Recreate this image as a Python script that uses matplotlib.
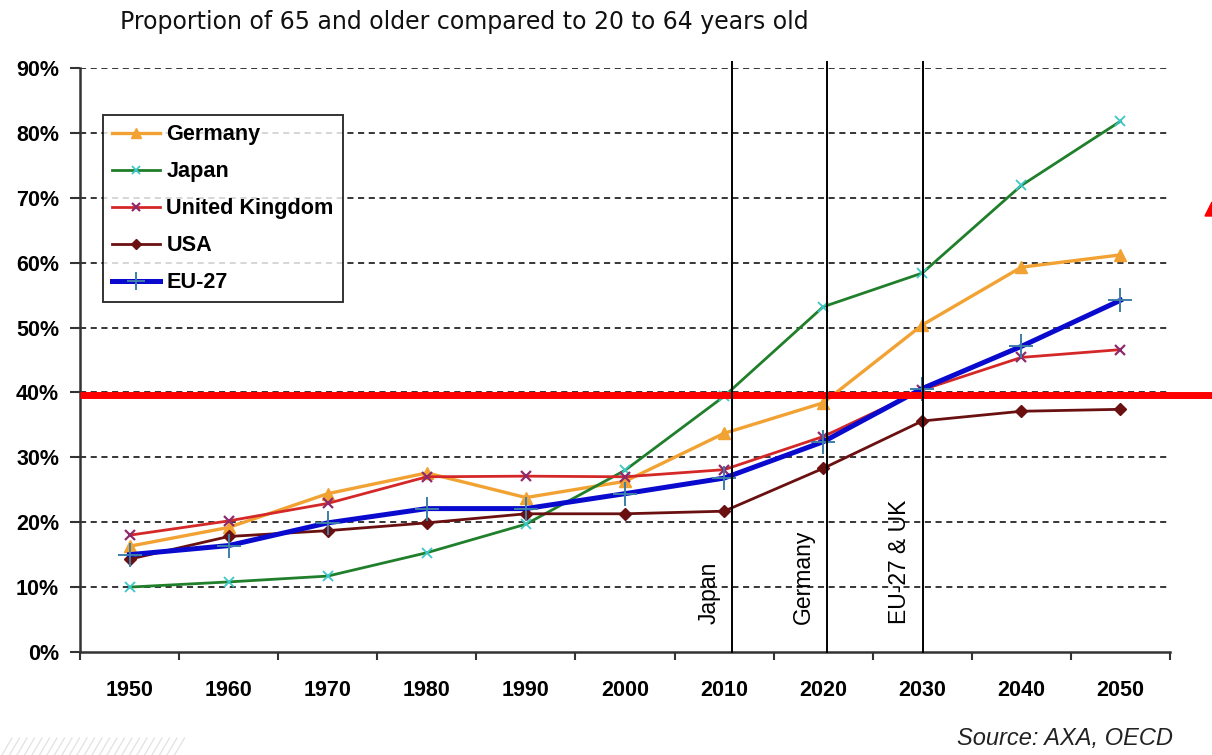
import numpy as np
import matplotlib
matplotlib.use("Agg")
import matplotlib.pyplot as plt
from matplotlib.lines import Line2D
from matplotlib.patches import Polygon

# ----------------------------
# DATA
# ----------------------------
years = ["1950", "1960", "1970", "1980", "1990", "2000", "2010", "2020", "2030", "2040", "2050"]
germany = [16.3, 19.2, 24.4, 27.6, 23.8, 26.3, 33.7, 38.4, 50.4, 59.3, 61.2]
japan = [10.0, 10.8, 11.7, 15.3, 19.7, 28.0, 39.4, 53.2, 58.4, 71.9, 81.8]
uk = [18.0, 20.2, 22.9, 27.0, 27.1, 27.0, 28.1, 33.2, 40.4, 45.4, 46.6]
usa = [14.3, 17.8, 18.7, 19.9, 21.3, 21.3, 21.7, 28.3, 35.6, 37.1, 37.4]
eu27 = [15.0, 16.4, 19.9, 22.1, 22.1, 24.4, 26.8, 32.4, 40.6, 47.1, 54.2]
threshold = 39.6
crossing_labels = ["Japan", "Germany", "EU-27 & UK"]
crossing_pos = [6.08, 7.04, 8.01]
yticks = [0, 10, 20, 30, 40, 50, 60, 70, 80, 90]

plt.rcParams["font.family"] = ["Liberation Sans", "DejaVu Sans"]

fig = plt.figure(figsize=(12.12, 7.55), dpi=100)
ax = fig.add_axes([80 / 1212, 1 - 652 / 755, 1090 / 1212, 584 / 755])

x = np.arange(len(years))

# ----------------------------
# series
# ----------------------------
ax.plot(x, germany, color="#F2A232", lw=2.4, marker="^", ms=9, mfc="#F2A232", mec="#F2A232",
        label="Germany", zorder=4)
ax.plot(x, japan, color="#1F7F2A", lw=2.0, marker="x", ms=7, mew=1.3, mec="#3CC8C8",
        label="Japan", zorder=4)
ax.plot(x, uk, color="#D42828", lw=2.0, marker="x", ms=7, mew=1.6, mec="#8E2A6A",
        label="United Kingdom", zorder=4)
ax.plot(x, usa, color="#6A1010", lw=2.0, marker="D", ms=6, mfc="#6A1010", mec="#6A1010",
        label="USA", zorder=4)
ax.plot(x, eu27, color="#0A0ACF", lw=3.6, marker="+", ms=17, mew=1.4, mec="#3C7FA8",
        label="EU-27", zorder=5)

# threshold line runs past the plot to the figure edge
ax.axhline(threshold, xmin=0, xmax=1.04, color="#FF0000", lw=5, clip_on=False, zorder=6,
           solid_capstyle="butt")

# crossing markers
for pos, lab in zip(crossing_pos, crossing_labels):
    ax.plot([pos, pos], [0, 91], color="black", lw=1.4, clip_on=False, zorder=7)
    ax.text(pos - 0.12, 4.3, lab, rotation=90, ha="right", va="bottom", fontsize=16.5,
            color="black", zorder=7)

# ----------------------------
# axes styling
# ----------------------------
ax.set_xlim(-0.5, len(years) - 0.5)
ax.set_ylim(0, 90)
ax.set_yticks(yticks)
ax.set_yticklabels([f"{v}%" for v in yticks], fontsize=15.5, fontweight="bold")
for v in yticks[1:]:
    ax.axhline(v, color="black", lw=1.1, ls=(0, (4, 3)), zorder=1)

ax.set_xticks(np.arange(-0.5, len(years)), minor=False)
ax.set_xticklabels([])
ax.set_xticks(x, minor=True)
ax.set_xticklabels(years, minor=True, fontsize=15.5, fontweight="bold")
ax.tick_params(axis="x", which="major", direction="out", length=6, width=1.5, color="#333333")
ax.tick_params(axis="x", which="minor", length=0, pad=20)
ax.tick_params(axis="y", direction="out", length=7, width=1.5, color="#333333", pad=8)

for side in ["top", "right"]:
    ax.spines[side].set_visible(False)
for side in ["left", "bottom"]:
    ax.spines[side].set_color("#333333")
    ax.spines[side].set_linewidth(1.8)

leg = ax.legend(loc="upper left", bbox_to_anchor=(103 / 1212, 1 - 115 / 755),
                bbox_transform=fig.transFigure, prop={"weight": "bold", "size": 15.6},
                frameon=True, fancybox=False, borderaxespad=0, borderpad=0.42,
                handlelength=2.2, handletextpad=0.3, labelspacing=0.74, markerscale=0.8)
leg.get_frame().set_edgecolor("black")
leg.get_frame().set_linewidth(1.4)
leg.set_zorder(10)

# ----------------------------
# figure texts
# ----------------------------
fig.text(120 / 1212, 1 - 22 / 755, "Proportion of 65 and older compared to 20 to 64 years old",
         fontsize=17, family=["DejaVu Sans"], ha="left", va="center", color="#111111")
fig.text(1173 / 1212, 1 - 738 / 755, "Source: AXA, OECD", fontsize=17, style="italic",
         ha="right", va="center", color="#222222")

# clipped red shape at right edge
fig.add_artist(Polygon([[1205 / 1212, 1 - 216 / 755], [1212 / 1212, 1 - 202 / 755],
                        [1212 / 1212, 1 - 216 / 755]], closed=True, color="#FF0000",
                       transform=fig.transFigure))

# faint striped decoration in the bottom-left corner
for i in range(24):
    x0 = (2 + i * 7.5) / 1212
    fig.add_artist(Line2D([x0, x0 + 10 / 1212], [0, 17 / 755], color="#E2E2E2", lw=0.9,
                          transform=fig.transFigure))

fig.savefig("out.png", dpi=100)
